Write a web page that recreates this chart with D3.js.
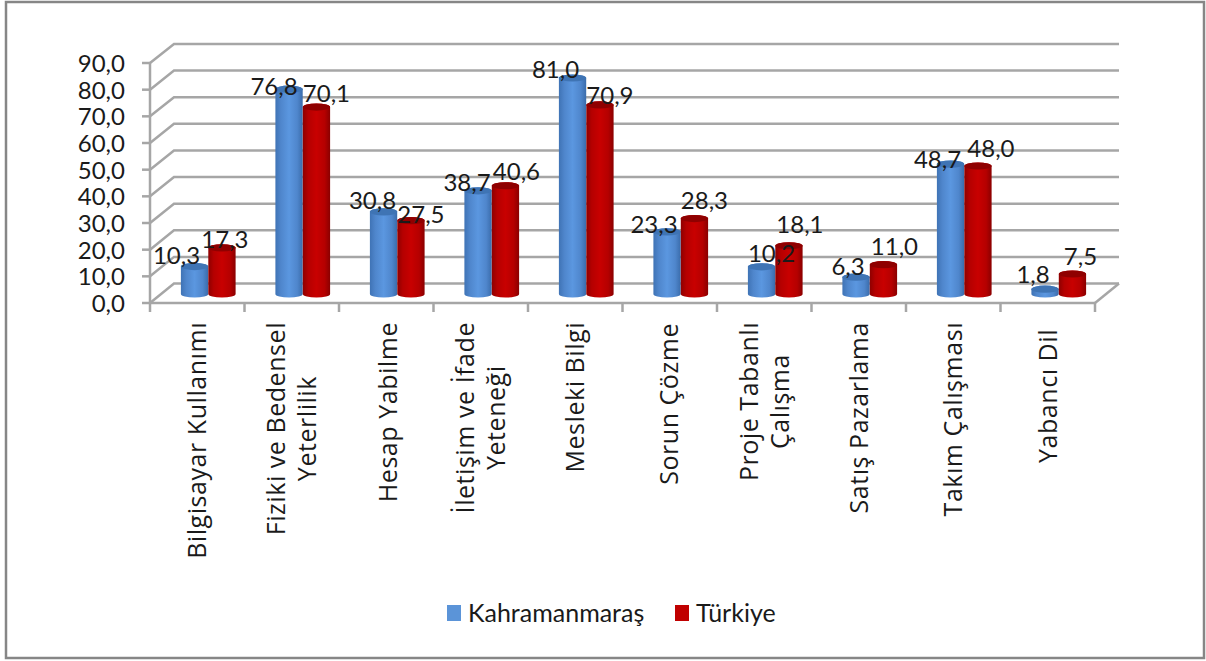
<!DOCTYPE html>
<html><head><meta charset="utf-8">
<script src="https://d3js.org/d3.v7.min.js"></script>
<style>html,body{margin:0;padding:0;background:#fff}svg{display:block}text{font-family:Lato,"Open Sans",sans-serif;fill:#1a1a1a}</style>
</head><body><svg id="c" width="1206" height="661"></svg>
<script>
const categories=["Bilgisayar Kullanımı","Fiziki ve Bedensel|Yeterlilik","Hesap Yabilme","İletişim ve İfade|Yeteneği","Mesleki Bilgi","Sorun Çözme","Proje Tabanlı|Çalışma","Satış Pazarlama","Takım Çalışması","Yabancı Dil"];
const kahramanmaras=[10.3,76.8,30.8,38.7,81.0,23.3,10.2,6.3,48.7,1.8];
const turkiye=[17.3,70.1,27.5,40.6,70.9,28.3,18.1,11.0,48.0,7.5];
const seriesNames=["Kahramanmaraş","Türkiye"];
const yTicks=[0,10,20,30,40,50,60,70,80,90];
const blueLabelNudge=[[-18,-3],[-15,6],[-11,-3],[-11,0],[-17,0],[-13,1],[10,-5],[-8,-2],[-13,4],[-12,-6]];
const redLabelNudge=[[3,0],[10,-5],[10,2],[11,-6],[10,-1],[10,-10],[11,-13],[11,-10],[13,-9],[8,-9]];
const catNudge=[[0,0],[0,0],[2,0],[0,0],[0,0],[-1,1],[0,0],[0,0],[0,0],[0,7]];

const svg=d3.select("#c");
const fmt=v=>d3.format(".1f")(v).replace(".",",");
const idx=categories.map((_,i)=>i);
const xFront=d3.scaleBand().domain(idx).range([150,1095]);
const depth=24;
const yFront=d3.scaleLinear().domain([0,90]).range([303,63]);
const yBack=d3.scaleLinear().domain([0,90]).range([283.5,44]);
const yBar=d3.scaleLinear().domain([0,90]).range([294,54]);
const grid="#a6a6a6";
const defs=svg.append("defs");
function grad(id,stops){const g=defs.append("linearGradient").attr("id",id);
 stops.forEach(s=>g.append("stop").attr("offset",s[0]).attr("stop-color",s[1]));}
grad("gb",[[0,"#3f73b5"],[.2,"#4f86cc"],[.5,"#5b97e0"],[.8,"#4f86cc"],[1,"#3a6cab"]]);
grad("gr",[[0,"#8e0000"],[.2,"#b50000"],[.5,"#c80000"],[.8,"#b50000"],[1,"#8a0000"]]);

svg.append("rect").attr("x",6).attr("y",2).attr("width",1198).attr("height",656).attr("fill","#fff").attr("stroke","#868686").attr("stroke-width",2.5);

const walls=svg.append("g").attr("fill","none").attr("stroke",grid).attr("stroke-width",2.5);
yTicks.forEach(t=>{
  walls.append("path").attr("d",`M${xFront.range()[0]},${yFront(t)}L${xFront.range()[0]+depth},${yBack(t)}L${xFront.range()[1]+depth},${yBack(t)}`);
  walls.append("line").attr("x1",xFront.range()[0]-8).attr("x2",xFront.range()[0]).attr("y1",yFront(t)).attr("y2",yFront(t));
});
walls.append("line").attr("x1",150).attr("x2",150).attr("y1",yFront(90)).attr("y2",yFront(0)+9);
walls.append("line").attr("x1",150).attr("x2",1095).attr("y1",yFront(0)).attr("y2",yFront(0));
walls.append("line").attr("x1",1095).attr("x2",1095+depth).attr("y1",yFront(0)).attr("y2",yBack(0));
idx.forEach(i=>{const x=xFront(i)+xFront.bandwidth();
  walls.append("line").attr("x1",x).attr("x2",x).attr("y1",yFront(0)).attr("y2",yFront(0)+9);});

svg.append("g").selectAll("text").data(yTicks).join("text")
 .attr("x",125).attr("y",d=>yFront(d)+9).attr("text-anchor","end").attr("font-size",24).text(fmt);

const barW=27.3, ry=3.6;
function cyl(g,cx,v,fill,top){
  const yt=yBar(v), yb=yBar(0), r=barW/2;
  g.append("path").attr("fill",`url(#${fill})`)
   .attr("d",`M${cx-r},${yt}L${cx-r},${yb}A${r},${ry} 0 0 0 ${cx+r},${yb}L${cx+r},${yt}A${r},${ry} 0 0 0 ${cx-r},${yt}Z`);
  g.append("ellipse").attr("cx",cx).attr("cy",yt).attr("rx",r).attr("ry",ry).attr("fill",top);
}
const bars=svg.append("g");
const labels=svg.append("g").attr("font-size",24).attr("text-anchor","middle");
idx.forEach(i=>{
  const c=xFront(i)+xFront.bandwidth()/2+11;
  const bx=c-13.7, rx=c+13.7;
  cyl(bars,bx,kahramanmaras[i],"gb","#3f74b4");
  cyl(bars,rx,turkiye[i],"gr","#8f0000");
  labels.append("text").attr("x",bx+blueLabelNudge[i][0]).attr("y",yBar(kahramanmaras[i])+blueLabelNudge[i][1]).text(fmt(kahramanmaras[i]));
  labels.append("text").attr("x",rx+redLabelNudge[i][0]).attr("y",yBar(turkiye[i])+redLabelNudge[i][1]).text(fmt(turkiye[i]));
});

const catFont=25, catSpacing=0.55;
const cat=svg.append("g").attr("font-size",catFont);
const canvas=document.createElement("canvas").getContext("2d");
canvas.font=catFont+'px "Open Sans"';
idx.forEach(i=>{
  const lines=categories[i].split("|");
  const widest=d3.max(lines,l=>canvas.measureText(l).width+l.length*catSpacing);
  const cx=xFront(i)+xFront.bandwidth()/2+catNudge[i][0];
  const midY=322+catNudge[i][1]+widest/2;
  lines.forEach((l,j)=>{
    const off=(j-(lines.length-1)/2)*31;
    cat.append("text").attr("transform",`translate(${cx+off+9},${midY}) rotate(-90)`).attr("text-anchor","middle").style("font-family",'"Open Sans"').style("letter-spacing",catSpacing+"px").text(l);
  });
});

const lg=svg.append("g");
lg.append("rect").attr("x",447).attr("y",605).attr("width",14).attr("height",16).attr("fill","#5b94d8");
lg.append("text").attr("x",468).attr("y",622).attr("font-size",25).text(seriesNames[0]);
lg.append("rect").attr("x",675).attr("y",605).attr("width",14).attr("height",16).attr("fill","#c00000");
lg.append("text").attr("x",696).attr("y",622).attr("font-size",25).text(seriesNames[1]);
</script></body></html>
